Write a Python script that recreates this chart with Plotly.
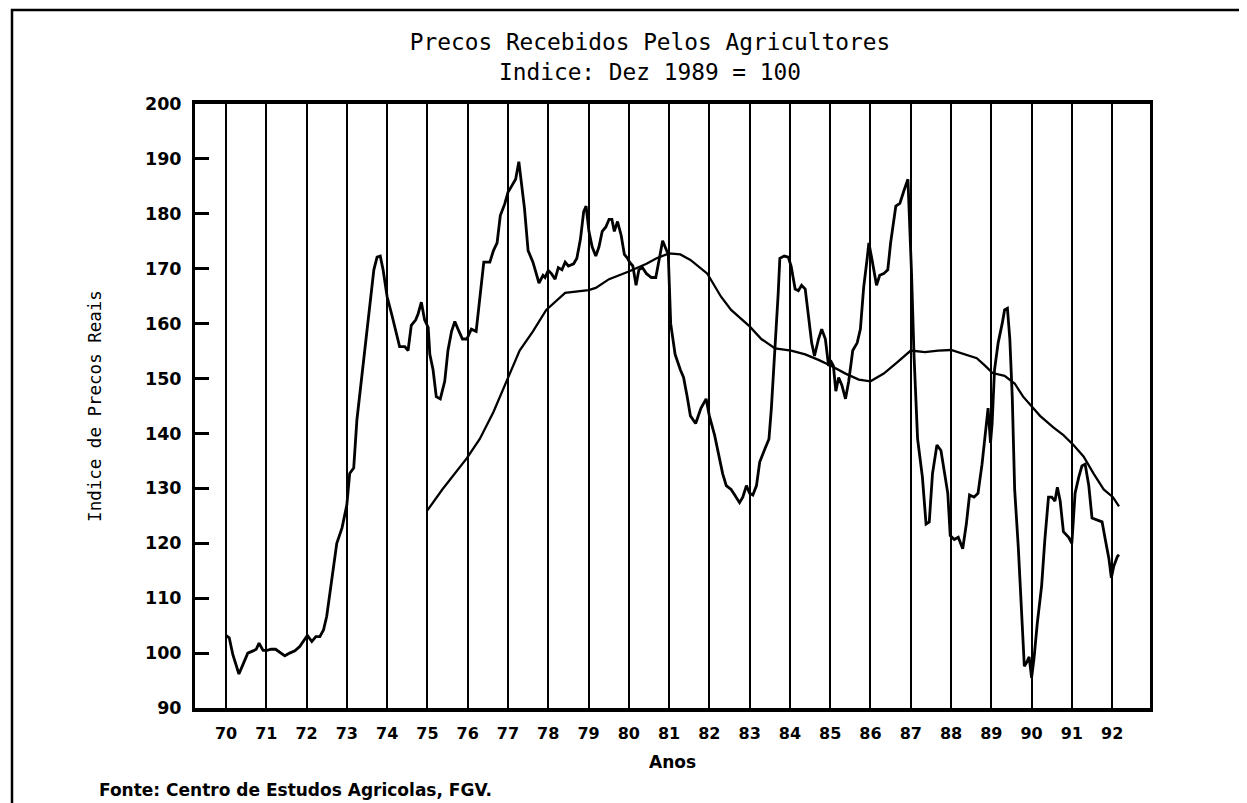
import plotly.graph_objects as go

jag_years = [70.00, 70.08, 70.17, 70.32, 70.42, 70.54, 70.67, 70.75, 70.82, 70.92,
             71.02, 71.12, 71.23, 71.33, 71.46, 71.58, 71.71, 71.83, 71.96,
             72.02, 72.13, 72.23, 72.33, 72.42, 72.50, 72.63, 72.75, 72.88,
             73.00, 73.07, 73.17, 73.25, 73.42, 73.54, 73.67, 73.75, 73.83, 73.90,
             74.00, 74.11, 74.23, 74.31, 74.44, 74.52, 74.60, 74.71, 74.77, 74.85, 74.93,
             75.02, 75.06, 75.14, 75.22, 75.32, 75.43, 75.51, 75.60, 75.68, 75.76, 75.87, 75.98,
             76.09, 76.21, 76.30, 76.40, 76.55, 76.64, 76.73, 76.81, 76.92,
             77.00, 77.08, 77.19, 77.27, 77.33, 77.41, 77.50, 77.62, 77.77, 77.87, 77.92,
             78.00, 78.08, 78.17, 78.25, 78.34, 78.42, 78.50, 78.63, 78.71, 78.80, 78.88, 78.94,
             79.01, 79.09, 79.18, 79.26, 79.34, 79.43, 79.51, 79.58, 79.64, 79.72, 79.81, 79.89, 79.97,
             80.02, 80.10, 80.18, 80.25, 80.34, 80.44, 80.56, 80.67, 80.76, 80.84, 80.90, 80.98,
             81.04, 81.15, 81.28, 81.36, 81.45, 81.53, 81.66, 81.79, 81.92,
             82.00, 82.13, 82.25, 82.33, 82.42, 82.54, 82.63, 82.75, 82.83, 82.92,
             83.00, 83.08, 83.17, 83.25, 83.38, 83.48, 83.54, 83.64, 83.71, 83.75, 83.86, 83.96,
             84.03, 84.13, 84.21, 84.29, 84.38, 84.46, 84.54, 84.61, 84.71, 84.79, 84.88, 84.96,
             85.03, 85.08, 85.14, 85.21, 85.29, 85.38, 85.46, 85.56, 85.67, 85.75, 85.83, 85.92, 85.96,
             86.04, 86.15, 86.23, 86.33, 86.43, 86.50, 86.63, 86.73, 86.83, 86.93,
             87.02, 87.08, 87.17, 87.29, 87.38, 87.46, 87.54, 87.65, 87.75, 87.85, 87.92, 87.98,
             88.08, 88.18, 88.29, 88.38, 88.46, 88.57, 88.67, 88.77, 88.85, 88.92, 88.98,
             89.02, 89.08, 89.17, 89.27, 89.33, 89.40, 89.46, 89.52, 89.58, 89.67, 89.75, 89.82, 89.88, 89.94,
             90.00, 90.06, 90.14, 90.25, 90.33, 90.42, 90.50, 90.58, 90.64, 90.71, 90.79, 90.92,
             91.00, 91.08, 91.17, 91.25, 91.33, 91.42, 91.50, 91.63, 91.75, 91.83, 91.92, 91.98,
             92.04, 92.13, 92.17]
jag_index = [103.2, 102.8, 99.7, 96.2, 97.9, 100.0, 100.4, 100.7, 101.8, 100.5,
             100.5, 100.7, 100.7, 100.2, 99.5, 100.0, 100.4, 101.2, 102.5,
             103.2, 102.1, 103.0, 103.0, 104.2, 106.7, 113.7, 120.0, 122.8,
             127.0, 132.7, 133.7, 142.5, 153.7, 160.7, 169.8, 172.1, 172.3, 169.8,
             164.9, 161.8, 157.9, 155.8, 155.8, 155.1, 159.7, 160.7, 161.8, 163.9, 160.7,
             159.3, 154.4, 151.6, 146.7, 146.3, 149.5, 155.1, 158.6, 160.4, 159.0, 157.2, 157.2,
             159.0, 158.6, 164.2, 171.2, 171.2, 173.3, 174.7, 179.7, 181.8,
             183.9, 184.9, 186.3, 189.5, 186.0, 181.0, 173.3, 171.2, 167.4, 168.8, 168.4,
             169.7, 169.1, 168.1, 170.2, 169.8, 171.2, 170.5, 170.9, 171.9, 175.4, 180.4, 181.4,
             176.8, 174.0, 172.3, 174.0, 176.8, 177.6, 179.0, 179.0, 176.8, 178.6, 176.1, 172.6, 171.9,
             171.2, 170.5, 167.0, 169.8, 170.2, 169.1, 168.4, 168.4, 171.9, 175.1, 174.0, 172.6,
             160.0, 154.4, 151.6, 150.2, 146.7, 143.2, 141.8, 144.6, 146.3,
             143.2, 139.7, 135.5, 132.7, 130.5, 129.8, 128.8, 127.4, 128.4, 130.5,
             129.1, 128.8, 130.5, 134.8, 137.2, 139.0, 144.6, 155.8, 165.6, 171.9, 172.3, 172.1,
             170.5, 166.3, 166.0, 167.0, 166.3, 161.4, 156.5, 154.1, 157.2, 159.0, 157.2, 152.3,
             153.0, 152.3, 147.7, 150.2, 148.8, 146.3, 149.5, 155.1, 156.5, 159.0, 166.5, 172.0, 174.7,
             171.6, 167.0, 168.8, 169.1, 169.8, 174.7, 181.4, 181.9, 184.2, 186.3,
             169.1, 154.4, 139.0, 132.0, 123.5, 123.9, 132.7, 137.9, 136.9, 132.7, 129.1, 121.4,
             120.7, 121.1, 119.0, 123.5, 128.8, 128.4, 129.1, 134.4, 140.4, 144.6, 138.3,
             141.8, 151.6, 156.5, 160.0, 162.5, 162.8, 157.2, 146.7, 129.8, 119.3, 108.8, 97.6, 98.3, 99.3,
             95.5, 99.0, 105.3, 112.3, 120.7, 128.4, 128.4, 127.7, 130.2, 127.7, 122.1, 121.1,
             120.0, 129.1, 132.0, 134.1, 134.4, 130.5, 124.6, 124.2, 123.9, 120.7, 117.2, 113.7,
             115.8, 117.6, 117.9]

# Smoothed trend line
trend_years = [75.00, 75.37, 75.98, 76.30, 76.64, 77.00, 77.29, 77.62, 77.95,
               78.42, 79.00, 79.18, 79.51, 80.00, 80.44, 80.69, 81.00, 81.28, 81.53, 81.95,
               82.29, 82.54, 83.00, 83.29, 83.63, 84.03, 84.38, 84.71, 85.03, 85.38, 85.71, 86.00,
               86.33, 86.67, 87.00, 87.35, 87.68, 88.00, 88.35, 88.64, 88.85, 89.03, 89.33, 89.58,
               89.79, 90.00, 90.21, 90.54, 90.79, 91.04, 91.29, 91.54, 91.79, 92.02, 92.17]
trend_index = [126.0, 129.8, 135.5, 139.0, 143.9, 150.2, 155.1, 158.6, 162.5,
               165.6, 166.1, 166.5, 168.1, 169.5, 170.9, 171.9, 172.8, 172.6, 171.6, 169.1,
               164.9, 162.5, 159.5, 157.2, 155.5, 155.1, 154.4, 153.4, 152.3, 150.9, 149.8, 149.5,
               150.9, 153.0, 155.1, 154.8, 155.1, 155.2, 154.4, 153.7, 152.3, 151.0, 150.5, 149.1,
               146.7, 144.9, 143.2, 141.1, 139.7, 137.9, 135.8, 132.7, 129.8, 128.4, 126.7]

year_ticks = list(range(70, 93))
year_labels = [str(y) for y in year_ticks]
index_ticks = list(range(90, 201, 10))

# page body adds an 8px offset; plot area is placed to land at the reference position
ML, MT = 187, 96
PW, PH = 955, 604

fig = go.Figure()
fig.add_trace(go.Scatter(x=jag_years, y=jag_index, mode="lines",
                         line=dict(color="black", width=2.8), showlegend=False))
fig.add_trace(go.Scatter(x=trend_years, y=trend_index, mode="lines",
                         line=dict(color="black", width=2.3), showlegend=False))


def px_x(px):
    return (px - 6 - ML) / PW


def px_y(py):
    return (MT + PH - (py - 5)) / PH


fig.update_layout(
    width=1247, height=803,
    paper_bgcolor="white", plot_bgcolor="white",
    margin=dict(l=ML, r=1247 - ML - PW, t=MT, b=803 - MT - PH),
    title=dict(
        text="Precos Recebidos Pelos Agricultores<br>Indice: Dez 1989 = 100",
        font=dict(family="DejaVu Sans Mono", size=22.8, color="black"),
        x=642 / 1247, xanchor="center", xref="container",
        y=1 - 42 / 803, yanchor="top", yref="container",
    ),
    xaxis=dict(
        range=[69.23, 92.94], tickmode="array", tickvals=year_ticks, ticktext=year_labels,
        showgrid=True, gridcolor="black", gridwidth=1.8, zeroline=False,
        showline=True, linecolor="black", linewidth=3.5, mirror=True,
        ticks="", ticklabelstandoff=8,
        tickfont=dict(family="DejaVu Sans", size=16, color="black", weight="bold"),
        title=dict(text="Anos", standoff=15,
                   font=dict(family="DejaVu Sans", size=17, color="black", weight="bold")),
    ),
    yaxis=dict(
        range=[90, 200], tickmode="array", tickvals=index_ticks,
        showgrid=False, zeroline=False,
        showline=True, linecolor="black", linewidth=3, mirror=True,
        ticks="inside", ticklen=14, tickwidth=2.5, tickcolor="black",
        ticklabelstandoff=7,
        tickfont=dict(family="DejaVu Sans", size=17.5, color="black", weight="bold"),
        title=dict(text="Indice de Precos Reais", standoff=39,
                   font=dict(family="DejaVu Sans Mono", size=17.5, color="black")),
    ),
    annotations=[dict(
        text="Fonte: Centro de Estudos Agricolas, FGV.",
        xref="paper", yref="paper", x=px_x(95), y=px_y(787),
        xanchor="left", yanchor="middle", showarrow=False,
        font=dict(family="DejaVu Sans", size=17, color="black", weight="bold"),
    )],
    shapes=[dict(
        type="rect", xref="paper", yref="paper",
        x0=px_x(10), x1=px_x(1239),
        y0=px_y(840), y1=px_y(7),
        line=dict(color="black", width=2.5), fillcolor="rgba(0,0,0,0)", layer="below",
    )],
)

fig.write_html("out.html")
